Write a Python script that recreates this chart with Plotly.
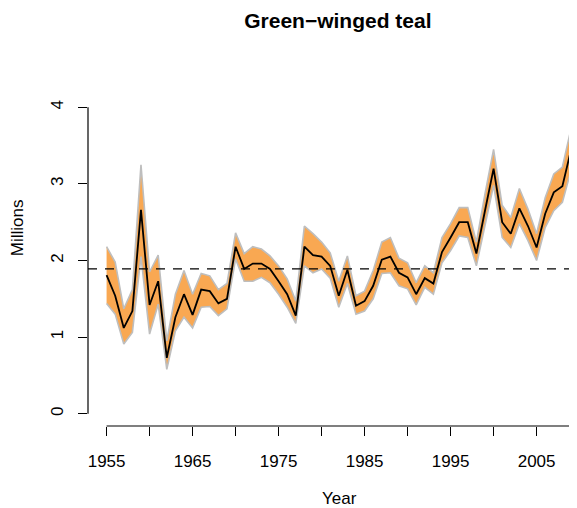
import plotly.graph_objects as go

years = list(range(1955, 2010))
mean = [1.81, 1.54, 1.12, 1.34, 2.66, 1.42, 1.73, 0.73, 1.26, 1.56,
        1.29, 1.62, 1.60, 1.44, 1.50, 2.18, 1.89, 1.96, 1.96, 1.89,
        1.73, 1.56, 1.28, 2.18, 2.07, 2.05, 1.93, 1.54, 1.88, 1.41,
        1.47, 1.67, 2.01, 2.05, 1.84, 1.78, 1.56, 1.77, 1.70, 2.11,
        2.30, 2.50, 2.50, 2.09, 2.65, 3.20, 2.50, 2.35, 2.68, 2.45,
        2.17, 2.61, 2.89, 2.97, 3.44]
upper = [2.18, 1.98, 1.37, 1.62, 3.25, 1.85, 2.07, 0.95, 1.56, 1.87,
         1.56, 1.83, 1.80, 1.62, 1.70, 2.36, 2.09, 2.18, 2.15, 2.06,
         1.93, 1.76, 1.47, 2.45, 2.35, 2.24, 2.10, 1.73, 2.06, 1.54,
         1.60, 1.87, 2.24, 2.30, 2.03, 1.97, 1.71, 1.93, 1.84, 2.30,
         2.48, 2.69, 2.69, 2.24, 2.87, 3.45, 2.72, 2.56, 2.94, 2.67,
         2.35, 2.82, 3.13, 3.22, 3.72]
lower = [1.44, 1.30, 0.91, 1.06, 2.05, 1.04, 1.43, 0.58, 1.08, 1.26,
         1.12, 1.39, 1.40, 1.28, 1.37, 2.02, 1.73, 1.73, 1.78, 1.71,
         1.56, 1.39, 1.18, 1.93, 1.84, 1.89, 1.77, 1.39, 1.70, 1.30,
         1.34, 1.50, 1.83, 1.84, 1.67, 1.63, 1.42, 1.65, 1.56, 1.97,
         2.13, 2.32, 2.30, 1.93, 2.45, 2.98, 2.30, 2.17, 2.48, 2.26,
         2.00, 2.43, 2.65, 2.76, 3.17]
ref_level = 1.89

x_ticks = list(range(1955, 2011, 5))
x_labels = [str(y) if (y - 1955) % 10 == 0 else "" for y in x_ticks]
y_ticks = [0, 1, 2, 3, 4]

# R-style plot region (4% padding)
x_lo, x_hi = 1955 - 0.04 * 54, 2009.7
y_lo, y_hi = -0.16, 4.16

FONT = "Liberation Sans, Arial, Helvetica, sans-serif"

fig = go.Figure()
fig.add_trace(go.Scatter(
    x=years + years[::-1], y=upper + lower[::-1],
    fill="toself", fillcolor="#F9A852", mode="lines",
    line=dict(color="#BEBEBE", width=1.6), hoverinfo="skip"))
fig.add_trace(go.Scatter(x=years, y=mean, mode="lines",
                         line=dict(color="black", width=1.8)))

# dashed reference line across the plot region
fig.add_shape(type="line", xref="paper", x0=0, x1=1, yref="y",
              y0=ref_level, y1=ref_level, layer="above", opacity=1,
              line=dict(color="black", width=1.3, dash="9px,8px"))
# axis lines spanning tick range only (R style)
fig.add_shape(type="line", xref="paper", yref="paper", layer="above", opacity=1,
              x0=(1955 - x_lo) / (x_hi - x_lo), x1=1, y0=0, y1=0,
              line=dict(color="black", width=1.2))
fig.add_shape(type="line", xref="paper", yref="paper", x0=0, x1=0,
              layer="above", opacity=1,
              y0=(0 - y_lo) / (y_hi - y_lo), y1=(4 - y_lo) / (y_hi - y_lo),
              line=dict(color="black", width=1.2))

fig.update_xaxes(range=[x_lo, x_hi], tickvals=x_ticks, ticktext=x_labels,
                 ticks="outside", ticklen=9, tickwidth=1.2, tickcolor="black",
                 showgrid=False, zeroline=False, showline=False, automargin=False,
                 ticklabelstandoff=11, tickfont=dict(size=17, color="black"))
fig.update_yaxes(range=[y_lo, y_hi], tickvals=y_ticks, tickangle=-90,
                 ticks="outside", ticklen=9, tickwidth=1.2, tickcolor="black",
                 showgrid=False, zeroline=False, showline=False, automargin=False,
                 ticklabelstandoff=8, tickfont=dict(size=17, color="black"))

# page body adds an 8px margin, so the figure is sized to fit inside it
fig.update_layout(
    width=569, height=500, template="none",
    margin=dict(l=80, r=0, t=87, b=82, autoexpand=False),
    showlegend=False, plot_bgcolor="white", paper_bgcolor="white",
    font=dict(family=FONT, color="black"),
    title=dict(text="<b>Green\u2212winged teal</b>", x=0.511, xref="paper",
               y=0.974, yref="container", xanchor="center", yanchor="middle",
               font=dict(size=21, color="black")),
    annotations=[
        dict(text="Year", xref="paper", yref="paper", x=0.515, y=-0.22,
             xanchor="center", yanchor="middle", showarrow=False,
             font=dict(size=17)),
        dict(text="Millions", xref="paper", yref="paper", x=-0.145, y=0.598,
             xanchor="center", yanchor="middle", showarrow=False,
             textangle=-90, font=dict(size=17)),
    ])

fig.write_html("out.html")
